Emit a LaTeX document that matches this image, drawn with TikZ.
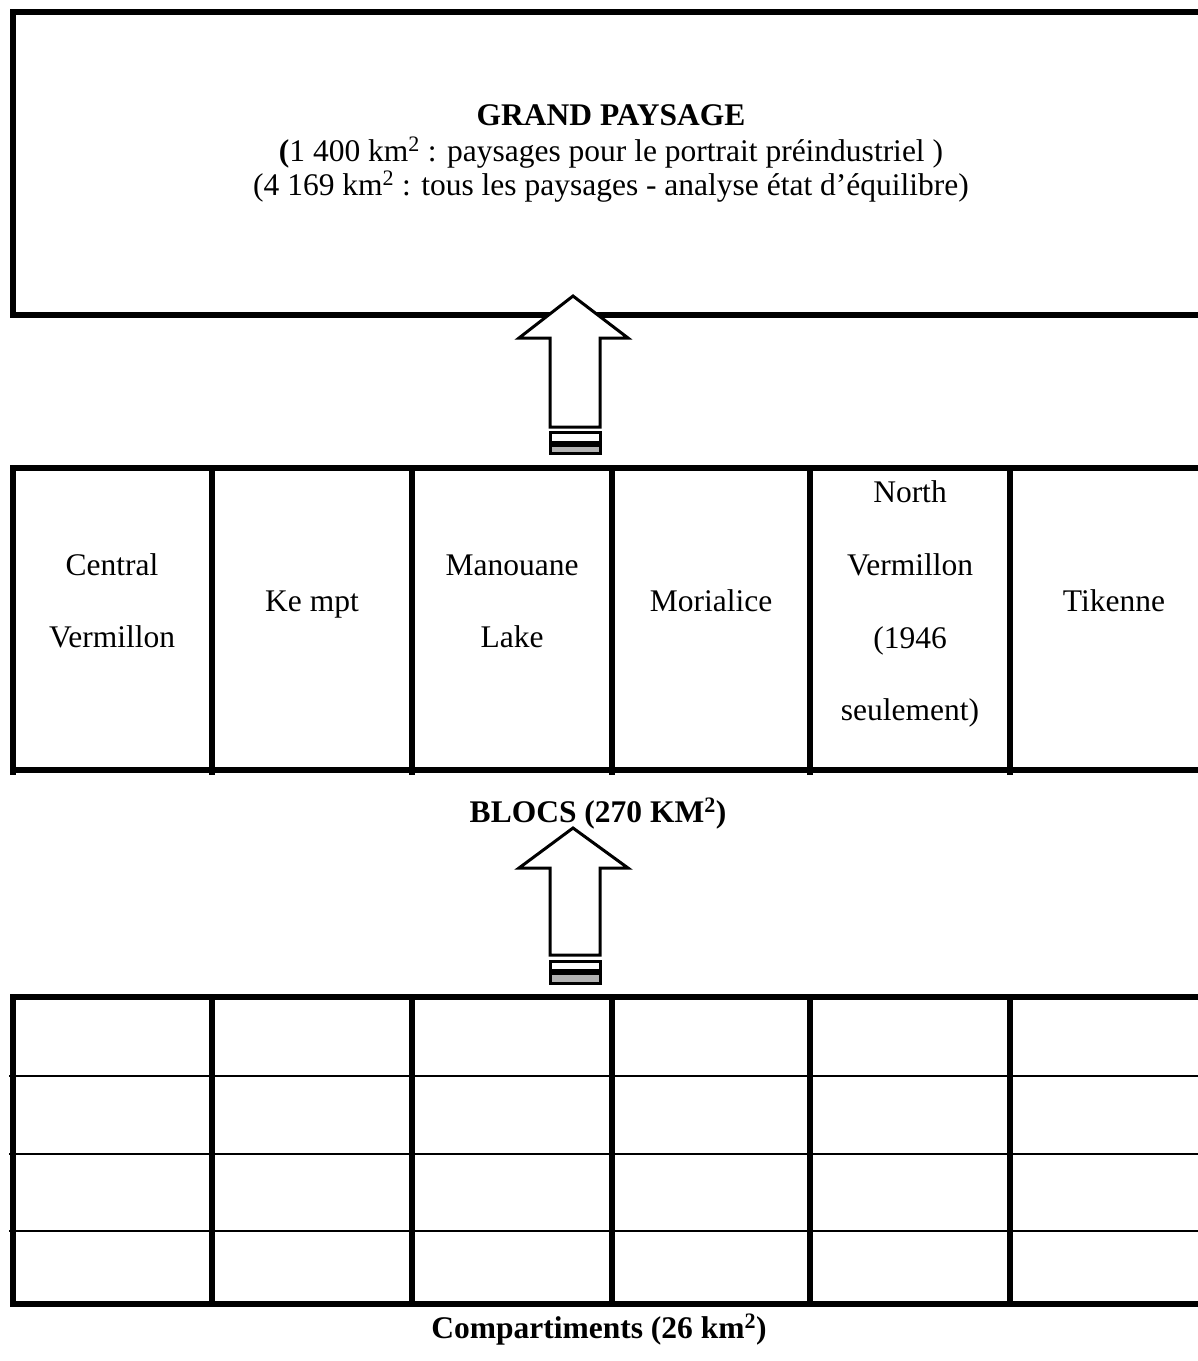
\documentclass[tikz,border=0pt]{standalone}
\usepackage{fontspec}
\setmainfont{Liberation Serif}
\begin{document}
\begin{tikzpicture}[x=1pt,y=-1pt,
  heavy/.style={line width=6pt, line cap=rect},
  light/.style={line width=2.2pt},
  bigarrow/.style={draw, line width=3pt, fill=white, line join=miter},
  txt/.style={font=\fontsize{31.5}{34}\selectfont, anchor=base, inner sep=0pt},
  boldtxt/.style={txt, font=\fontsize{31.5}{34}\selectfont\bfseries}
]
\useasboundingbox (0,0) rectangle (1198,1361);
\clip (0,0) rectangle (1198,1361);
\fill[white] (0,0) rectangle (1198,1361);

% Top box (grand paysage)
\draw[heavy] (13,12) -- (1230,12);
\draw[heavy] (13,12) -- (13,315);
\draw[heavy] (13,315) -- (1230,315);
\node[boldtxt] (gp) at (611,125) {GRAND PAYSAGE};
\node[txt] (gp1) at (611,161) {\textbf{(}1 400 km\textsuperscript{2} : paysages pour le portrait préindustriel )};
\node[txt] (gp2) at (611,195) {(4 169 km\textsuperscript{2} : tous les paysages - analyse état d’équilibre)};

% Arrow 1
\draw[bigarrow] (573,296) -- (628,338) -- (600,338) -- (600,427) -- (550,427) -- (550,338) -- (519,338) -- cycle;
\draw[line width=3pt, fill=white] (550,432) rectangle (600,442);
\draw[line width=3pt, fill=gray!60] (550,445) rectangle (600,453);

% Blocs table
\draw[heavy] (13,468) -- (1230,468);
\draw[heavy] (13,770) -- (1230,770);
\foreach \x in {13,212,412,612,810,1010} {\draw[heavy] (\x,468) -- (\x,772);}

\node[txt] (c1a) at (112,575) {Central};
\node[txt] (c1b) at (112,647) {Vermillon};
\node[txt] (c2) at (312,611) {Ke mpt};
\node[txt] (c3a) at (512,575) {Manouane};
\node[txt] (c3b) at (512,647) {Lake};
\node[txt] (c4) at (711,611) {Morialice};
\node[txt] (c5a) at (910,502) {North};
\node[txt] (c5b) at (910,575) {Vermillon};
\node[txt] (c5c) at (910,648) {(1946};
\node[txt] (c5d) at (910,720) {seulement)};
\node[txt] (c6) at (1114,611) {Tikenne};

\node[boldtxt] (blocs) at (598,822) {BLOCS (270 KM\textsuperscript{2})};

% Arrow 2
\draw[bigarrow] (573,828) -- (628,868) -- (600,868) -- (600,955) -- (550,955) -- (550,868) -- (519,868) -- cycle;
\draw[line width=3pt, fill=white] (550,961) rectangle (600,970);
\draw[line width=3pt, fill=gray!60] (550,973) rectangle (600,983);

% Compartiments table
\foreach \y in {1076,1154,1231} {\draw[light] (9,\y) -- (1230,\y);}
\draw[heavy] (13,997) -- (1230,997);
\draw[heavy] (13,1304) -- (1230,1304);
\foreach \x in {13,212,412,612,810,1010} {\draw[heavy] (\x,997) -- (\x,1304);}

\node[boldtxt] (comp) at (599,1338) {Compartiments (26 km\textsuperscript{2})};
\end{tikzpicture}
\end{document}
